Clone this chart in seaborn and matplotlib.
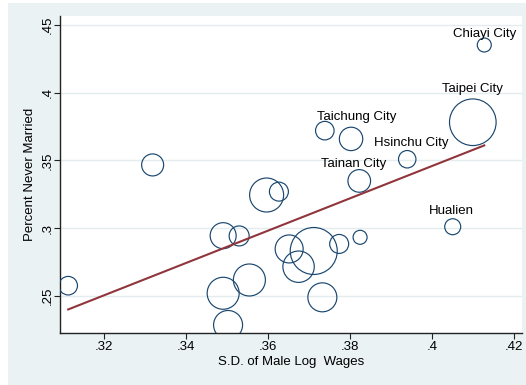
import numpy as np
import pandas as pd
import matplotlib
matplotlib.use("Agg")
import matplotlib.pyplot as plt
import seaborn as sns
from matplotlib.patches import Rectangle

# ---- data ----
sd_male_log_wages = [0.3112, 0.4127, 0.4099, 0.3738, 0.3802, 0.3939, 0.3822, 0.3318,
                     0.3596, 0.3626, 0.4050, 0.3490, 0.3529, 0.3651, 0.3711, 0.3773,
                     0.3824, 0.3674, 0.3554, 0.3490, 0.3732, 0.3502]
pct_never_married = [0.2576, 0.4352, 0.3782, 0.3720, 0.3659, 0.3509, 0.3349, 0.3467,
                     0.3245, 0.3270, 0.3011, 0.2945, 0.2943, 0.2847, 0.2832, 0.2884,
                     0.2933, 0.2716, 0.2618, 0.2520, 0.2490, 0.2286]
weight = [86, 49, 543, 86, 137, 76, 128, 121, 289, 90, 64, 169, 100, 196, 552, 90,
          49, 246, 256, 256, 210, 210]
city_labels = ["", "Chiayi City", "Taipei City", "", "Taichung City", "Hsinchu City",
               "Tainan City", "", "", "", "Hualien", "", "", "", "", "", "", "", "",
               "", "", ""]

x_ticks = [0.32, 0.34, 0.36, 0.38, 0.40, 0.42]
x_tick_labels = [".32", ".34", ".36", ".38", ".4", ".42"]
y_ticks = [0.25, 0.30, 0.35, 0.40, 0.45]
y_tick_labels = [".25", ".3", ".35", ".4", ".45"]

x_title = "S.D. of Male Log  Wages"
y_title = "Percent Never Married"

df = pd.DataFrame({"sd": sd_male_log_wages, "nm": pct_never_married,
                   "w": weight, "label": city_labels})

# ---- style ----
plt.rcParams["font.family"] = ["Liberation Sans", "DejaVu Sans"]
NAVY = "#1a476f"
MAROON = "#90353b"
BG = "#eaf2f3"
GRID = "#e3ecef"
FS = 9.5

W, H, DPI = 526, 385, 100
PX = 72.0 / DPI  # points per pixel

fig = plt.figure(figsize=(W / DPI, H / DPI), dpi=DPI)
fig.patch.set_facecolor("white")
fig.patches.append(Rectangle((8 / W, 0), 1 - 8 / W, 1 - 3 / H, transform=fig.transFigure,
                             facecolor=BG, edgecolor="none", zorder=-10))

left, right, top, bottom = 60, 522, 16, 332.7
ax_w, ax_h = right - left, bottom - top
ax = fig.add_axes([left / W, 1 - bottom / H, ax_w / W, ax_h / H])
ax.set_facecolor("white")

# bubbles: weight is r^2 in px -> s in pt^2
sizes = (2 * PX) ** 2 * df["w"].to_numpy()
sns.scatterplot(data=df, x="sd", y="nm", s=sizes, facecolors="none", edgecolor=NAVY,
                linewidth=0.85, ax=ax, legend=False, zorder=3)

# linear fit
coef = np.polyfit(df["sd"], df["nm"], 1)
xs = np.array([df["sd"].min(), df["sd"].max()])
fit = pd.DataFrame({"x": xs, "y": np.polyval(coef, xs)})
sns.lineplot(data=fit, x="x", y="y", color=MAROON, linewidth=1.5, ax=ax, zorder=4)

# labels (offsets in px: dx, baseline offset above center)
label_offsets = {"Chiayi City": (0, 7.6), "Taipei City": (0, 30.3),
                 "Taichung City": (5.7, 18.6), "Hsinchu City": (4, 12.9),
                 "Tainan City": (-6, 13.6), "Hualien": (-1.3, 12.7)}
for _, r in df.iterrows():
    if r["label"]:
        dx, dy = label_offsets[r["label"]]
        ax.annotate(r["label"], (r["sd"], r["nm"]), xytext=(dx * PX, dy * PX),
                    textcoords="offset points", ha="center", va="baseline",
                    fontsize=FS, color="black", zorder=5)

ax.set_xlim(0.3092, 0.4219)
ax.set_ylim(0.2229, 0.4566)
ax.set_xticks(x_ticks)
ax.set_xticklabels(x_tick_labels)
ax.set_yticks(y_ticks)
ax.set_yticklabels(y_tick_labels, rotation=90, va="center")
ax.tick_params(direction="out", length=4, width=0.8, color="#222222",
               labelsize=FS, labelcolor="black")
ax.tick_params(axis="x", pad=1.8)
ax.tick_params(axis="y", pad=0.3)
ax.yaxis.grid(True, color=GRID, linewidth=1.0, zorder=0)
ax.xaxis.grid(False)
ax.set_axisbelow(True)
for s in ["top", "right"]:
    ax.spines[s].set_visible(False)
for s in ["left", "bottom"]:
    ax.spines[s].set_color("#222222")
    ax.spines[s].set_linewidth(1.0)

ax.set_xlabel(x_title, fontsize=FS, va="center")
ax.xaxis.set_label_coords(0.5 - 1.0 / ax_w * 0 + (291 - (left + right) / 2) / ax_w,
                          (bottom - 362.3) / ax_h)
ax.set_ylabel(y_title, fontsize=FS, va="center")
ax.yaxis.set_label_coords((30.5 - left) / ax_w, 0.5)

fig.savefig("out.png", dpi=DPI)
